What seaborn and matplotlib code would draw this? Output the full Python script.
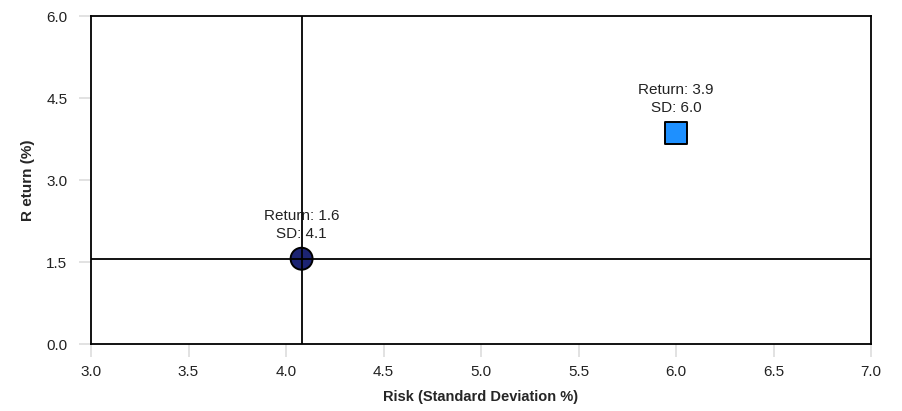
import pandas as pd
import seaborn as sns
import matplotlib.pyplot as plt

# ============================
# 数据
# ============================
names = ["Portfolio A", "Portfolio B"]
risk_sd = [4.08, 6.0]          # 标准差 %
returns = [1.56, 3.86]         # 收益 %
colors = ["#1c2473", "#1e90ff"]
markers = ["o", "s"]

x_ticks = [3.0, 3.5, 4.0, 4.5, 5.0, 5.5, 6.0, 6.5, 7.0]
y_ticks = [0.0, 1.5, 3.0, 4.5, 6.0]

df = pd.DataFrame({"name": names, "sd": risk_sd, "ret": returns})

# ============================
# 主题
# ============================
sns.set_theme(style="white")
plt.rcParams["font.family"] = ["Liberation Sans", "DejaVu Sans"]

fig = plt.figure(figsize=(9.02, 4.11), dpi=100)
ax = fig.add_axes([91 / 902, 1 - 344 / 411, 780 / 902, 328 / 411])

sns.scatterplot(
    data=df, x="sd", y="ret", hue="name", style="name",
    palette=dict(zip(names, colors)), markers=dict(zip(names, markers)),
    s=250, edgecolor="black", linewidth=1.4, legend=False, ax=ax, zorder=3,
)

# 十字准线（第一个组合）
ax.axvline(risk_sd[0], color="black", lw=1.3, zorder=4)
ax.axhline(returns[0], color="black", lw=1.3, zorder=4)

# 数据标签
for sd, r in zip(risk_sd, returns):
    ax.annotate(f"Return: {r:.1f}\nSD: {sd:.1f}", (sd, r), xytext=(0, 13),
                textcoords="offset points", ha="center", va="bottom",
                fontsize=11, linespacing=1.35, color="#222222")

ax.set_xlim(3.0, 7.0)
ax.set_ylim(0.0, 6.0)
ax.set_xticks(x_ticks)
ax.set_yticks(y_ticks)
ax.set_xticklabels([f"{v:.1f}" for v in x_ticks])
ax.set_yticklabels([f"{v:.1f}" for v in y_ticks])
ax.tick_params(axis="both", which="major", labelsize=11, length=9, width=1.2,
               color="#dddddd", labelcolor="#222222", bottom=True, left=True)
ax.tick_params(axis="x", pad=6)
ax.tick_params(axis="y", pad=8)

ax.set_xlabel("Risk (Standard Deviation %)", fontsize=10.5, fontweight="bold", labelpad=8)
ax.set_ylabel("R eturn (%)", fontsize=11, fontweight="bold", labelpad=8)

for sp in ax.spines.values():
    sp.set_color("black")
    sp.set_linewidth(1.3)
    sp.set_zorder(5)

fig.savefig("out.png", dpi=100)
